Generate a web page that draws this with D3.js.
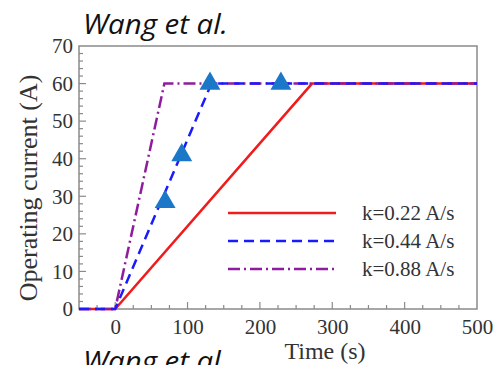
<!DOCTYPE html>
<html>
<head>
<meta charset="utf-8">
<script src="https://cdn.jsdelivr.net/npm/d3@7"></script>
<style>
  body { margin:0; background:#fff; }
  svg { display:block; }
</style>
</head>
<body>
<svg></svg>
<script>
// series: time (s) and operating current (A)
var redTime = [-50, 0, 272, 500];
var redCurrent = [0, 0, 60, 60];
var blueTime = [-50, 0, 133, 500];
var blueCurrent = [0, 0, 60, 60];
var purpleTime = [-50, 0, 68, 500];
var purpleCurrent = [0, 0, 60, 60];

// blue triangle markers
var markerTime = [69, 92, 131, 229];
var markerCurrent = [29, 41.5, 60.5, 60.5];

var legendLabels = ["k=0.22 A/s", "k=0.44 A/s", "k=0.88 A/s"];
var xTicks = [0, 100, 200, 300, 400, 500];
var yTicks = [0, 10, 20, 30, 40, 50, 60, 70];

var screen = { width:496, height:365 };
var svg = d3.select("svg")
  .attr("width", screen.width)
  .attr("height", screen.height);

var margins = { top:46, bottom:56, left:79, right:19 };
var width = screen.width - margins.left - margins.right;
var height = screen.height - margins.top - margins.bottom;

var xScale = d3.scaleLinear().domain([-50, 500]).range([0, width]);
var yScale = d3.scaleLinear().domain([0, 70]).range([height, 0]);

var plot = svg.append("g")
  .attr("transform", "translate(" + margins.left + "," + margins.top + ")");

var axisColor = "#8a8a8a";
var serif = "'Liberation Serif', 'DejaVu Serif', serif";

// frame
plot.append("rect")
  .attr("x", 0).attr("y", 0)
  .attr("width", width).attr("height", height)
  .attr("fill", "none")
  .attr("stroke", axisColor)
  .attr("stroke-width", 1.5);

// minor ticks (inside)
var xMinor = d3.range(-25, 500, 25);
plot.append("g").selectAll("line")
  .data(xMinor).enter().append("line")
  .attr("x1", function(d) { return xScale(d); })
  .attr("x2", function(d) { return xScale(d); })
  .attr("y1", height)
  .attr("y2", function(d) { return d % 100 === 0 ? height - 7 : height - 4; })
  .attr("stroke", axisColor).attr("stroke-width", 1.2);

var yMinor = d3.range(2, 70, 2);
plot.append("g").selectAll("line")
  .data(yMinor).enter().append("line")
  .attr("y1", function(d) { return yScale(d); })
  .attr("y2", function(d) { return yScale(d); })
  .attr("x1", 0)
  .attr("x2", function(d) { return d % 10 === 0 ? 7 : 4; })
  .attr("stroke", axisColor).attr("stroke-width", 1.2);

// axes with labels only
var xAxis = d3.axisBottom(xScale).tickValues(xTicks).tickSize(0).tickPadding(8);
var gx = plot.append("g")
  .attr("transform", "translate(0," + height + ")")
  .call(xAxis);
var yAxis = d3.axisLeft(yScale).tickValues(yTicks).tickSize(0).tickPadding(6);
var gy = plot.append("g").call(yAxis);

[gx, gy].forEach(function(g) {
  g.select(".domain").remove();
  g.selectAll("text")
    .attr("font-family", serif)
    .attr("font-size", 21)
    .attr("fill", "#333");
});
gx.selectAll("text").attr("dy", "0.8em");

// lines
var line = d3.line()
  .x(function(d) { return xScale(d[0]); })
  .y(function(d) { return yScale(d[1]); });

var series = [
  { t:redTime, c:redCurrent, color:"#f01c1c", dash:null },
  { t:purpleTime, c:purpleCurrent, color:"#8e1c9c", dash:"12,4,2,4" },
  { t:blueTime, c:blueCurrent, color:"#1a1aff", dash:"10,6" }
];

series.forEach(function(s) {
  plot.append("path")
    .datum(d3.zip(s.t, s.c))
    .attr("d", line)
    .attr("fill", "none")
    .attr("stroke", s.color)
    .attr("stroke-width", 2.5)
    .attr("stroke-dasharray", s.dash);
});

// triangle markers
var tri = d3.symbol().type(d3.symbolTriangle).size(190);
plot.append("g").selectAll("path")
  .data(d3.zip(markerTime, markerCurrent)).enter().append("path")
  .attr("d", tri)
  .attr("transform", function(d) {
    return "translate(" + xScale(d[0]) + "," + (yScale(d[1]) + 2) + ")";
  })
  .attr("fill", "#1b78c8");

// legend
var legendStyles = [
  { color:"#f01c1c", dash:null },
  { color:"#1a1aff", dash:"10,6" },
  { color:"#8e1c9c", dash:"12,4,2,4" }
];
var legend = plot.append("g")
  .attr("transform", "translate(" + (228 - margins.left) + "," + (213 - margins.top) + ")");
var rows = legend.selectAll("g")
  .data(legendLabels).enter().append("g")
  .attr("transform", function(d, i) { return "translate(0," + i * 28 + ")"; });
rows.append("line")
  .attr("x1", 0).attr("x2", 108).attr("y1", 0).attr("y2", 0)
  .attr("stroke", function(d, i) { return legendStyles[i].color; })
  .attr("stroke-width", 2.5)
  .attr("stroke-dasharray", function(d, i) { return legendStyles[i].dash; });
rows.append("text")
  .attr("x", 134).attr("y", 7)
  .attr("font-family", serif)
  .attr("font-size", 21)
  .attr("fill", "#333")
  .text(function(d) { return d; });

// axis titles
svg.append("text")
  .attr("transform", "translate(37," + 188 + ") rotate(-90)")
  .attr("text-anchor", "middle")
  .attr("font-family", serif)
  .attr("font-size", 26)
  .attr("fill", "#333")
  .text("Operating current (A)");

svg.append("text")
  .attr("x", 325).attr("y", 359)
  .attr("text-anchor", "middle")
  .attr("font-family", serif)
  .attr("font-size", 24)
  .attr("fill", "#333")
  .text("Time (s)");

// attribution text
svg.append("text")
  .attr("x", 83).attr("y", 34)
  .attr("font-family", "'Open Sans', sans-serif")
  .attr("font-style", "italic")
  .attr("font-size", 27)
  .attr("textLength", 145)
  .attr("lengthAdjust", "spacingAndGlyphs")
  .attr("fill", "#111")
  .text("Wang et al.");

svg.append("text")
  .attr("x", 83).attr("y", 371)
  .attr("font-family", "'Open Sans', sans-serif")
  .attr("font-style", "italic")
  .attr("font-size", 27)
  .attr("textLength", 145)
  .attr("lengthAdjust", "spacingAndGlyphs")
  .attr("fill", "#111")
  .text("Wang et al.");
</script>
</body>
</html>
